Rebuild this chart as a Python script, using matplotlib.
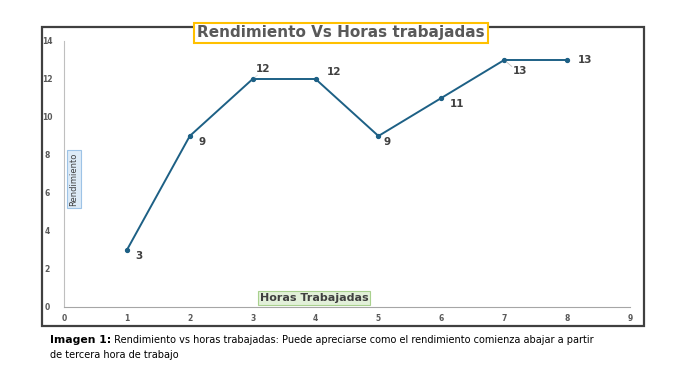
import matplotlib
matplotlib.use("Agg")
import matplotlib.pyplot as plt
from matplotlib.patches import Rectangle

horas = [1, 2, 3, 4, 5, 6, 7, 8]
rendimiento = [3, 9, 12, 12, 9, 11, 13, 13]
x_ticks = [0, 1, 2, 3, 4, 5, 6, 7, 8, 9]
y_ticks = [0, 2, 4, 6, 8, 10, 12, 14]
title = "Rendimiento Vs Horas trabajadas"
xlabel = "Horas Trabajadas"
ylabel = "Rendimiento"
caption_bold = "Imagen 1:"
caption_rest = " Rendimiento vs horas trabajadas: Puede apreciarse como el rendimiento comienza abajar a partir"
caption_line2 = "de tercera hora de trabajo"

W, H = 683, 384
fig = plt.figure(figsize=(W / 100, H / 100), dpi=100)
fig.patch.set_facecolor("white")

# outer chart frame
fig.patches.append(Rectangle((42 / W, 1 - 326 / H), 602 / W, 299 / H, transform=fig.transFigure,
                             fill=False, edgecolor="#404040", linewidth=1.6, zorder=0))

ax = fig.add_axes([64 / W, 1 - 307 / H, (630 - 64) / W, (307 - 41) / H])
ax.set_facecolor("none")
line_color = "#1d6085"
ax.plot(horas, rendimiento, color=line_color, linewidth=1.4, marker="o", markersize=2.8, zorder=3)

ax.set_xlim(0, 9)
ax.set_ylim(0, 14)
ax.set_xticks(x_ticks)
ax.set_yticks(y_ticks)
ax.tick_params(length=0, labelsize=5.5, labelcolor="#595959")
ax.xaxis.set_tick_params(pad=5)
for lab in ax.get_xticklabels() + ax.get_yticklabels():
    lab.set_fontweight("bold")
for s in ["top", "right"]:
    ax.spines[s].set_visible(False)
ax.spines["left"].set_color("#bfbfbf")
ax.spines["bottom"].set_color("#a6a6a6")
ax.spines["left"].set_linewidth(0.8)
ax.spines["bottom"].set_linewidth(0.8)
for lab in ax.get_yticklabels():
    lab.set_horizontalalignment("center")
ax.yaxis.set_tick_params(pad=12)

# data labels
offsets = {0: (6, -4), 1: (6, -4), 2: (2, 7), 3: (8, 5), 4: (4, -4), 5: (6, -4), 6: (6, -8), 7: (8, 0)}
for i, (xv, yv) in enumerate(zip(horas, rendimiento)):
    dx, dy = offsets[i]
    ax.annotate(str(yv), (xv, yv), xytext=(dx, dy), textcoords="offset points",
                fontsize=7.5, fontweight="bold", color="#404040", va="center", ha="left")
# leader lines
ax.annotate("", (horas[6], rendimiento[6]), xytext=(7, -6), textcoords="offset points",
            arrowprops=dict(arrowstyle="-", color="#bfbfbf", lw=0.6))
ax.annotate("", (horas[2], rendimiento[2]), xytext=(5, 4), textcoords="offset points",
            arrowprops=dict(arrowstyle="-", color="#d9d9d9", lw=0.5))

# title
fig.text(341 / W, 1 - 33 / H, title, ha="center", va="center", fontsize=11, fontweight="bold",
         color="#595959",
         bbox=dict(boxstyle="square,pad=0.18", facecolor="white", edgecolor="#ffc000", linewidth=1.5))

# x label inside plot
fig.text(314 / W, 1 - 298 / H, xlabel, ha="center", va="center", fontsize=8, fontweight="bold",
         color="#404040",
         bbox=dict(boxstyle="square,pad=0.15", facecolor="#e2f0d9", edgecolor="#a9d18e", linewidth=0.8))

# y label
fig.text(74 / W, 1 - 179 / H, ylabel, ha="center", va="center", fontsize=6, rotation=90,
         color="#404040",
         bbox=dict(boxstyle="square,pad=0.3", facecolor="#ddebf7", edgecolor="#9dc3e6", linewidth=0.8))

# caption
t = fig.text(50 / W, 1 - 340 / H, caption_bold, ha="left", va="center", fontsize=7.8, fontweight="bold",
             color="black")
fig.canvas.draw()
bb = t.get_window_extent()
fig.text(bb.x1 / W, 1 - 340 / H, caption_rest, ha="left", va="center", fontsize=7,
         color="black")
fig.text(50 / W, 1 - 355 / H, caption_line2, ha="left", va="center", fontsize=7,
         color="black")

fig.savefig("out.png", dpi=100)
